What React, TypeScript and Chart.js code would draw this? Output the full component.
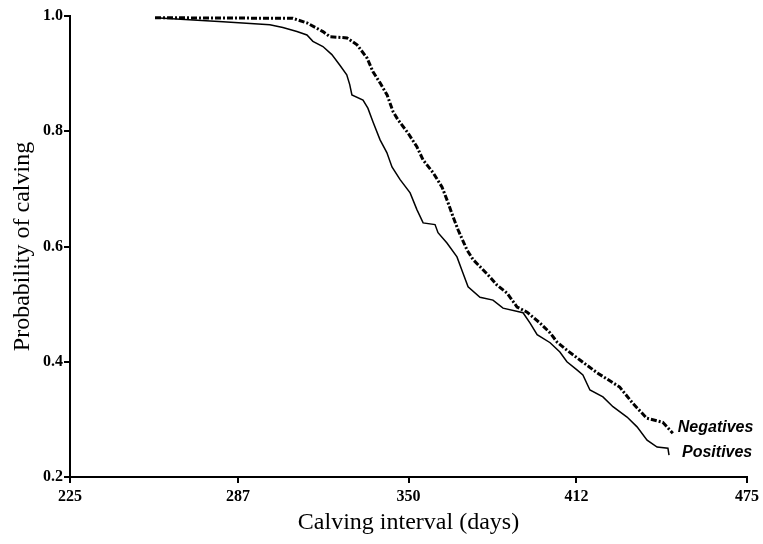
import React, { useEffect, useRef } from "react";
import { Chart, registerables } from "chart.js";

Chart.register(...registerables);

const xTicks = [225, 287, 350, 412, 475];
const yTicks = [0.2, 0.4, 0.6, 0.8, 1.0];

const seriesNames = ["Negatives", "Positives"];

const positivesDays = [256.4, 281.5, 298.8, 303.6, 308.8, 312.5, 314.7, 318.4, 321.7, 324.6, 327.2, 328.3, 329.1, 333.2, 335.0, 336.9, 339.5, 342.0, 343.9, 346.9, 350.6, 353.1, 355.4, 359.8, 360.9, 364.2, 367.9, 370.1, 372.0, 376.4, 381.2, 384.9, 392.3, 394.9, 397.5, 402.3, 405.9, 408.5, 412.2, 414.4, 417.0, 421.8, 425.5, 430.7, 434.4, 438.1, 441.8, 445.8, 446.2];
const positivesProb = [0.997, 0.990, 0.985, 0.980, 0.973, 0.967, 0.956, 0.947, 0.933, 0.915, 0.898, 0.881, 0.863, 0.854, 0.840, 0.816, 0.785, 0.763, 0.738, 0.716, 0.693, 0.664, 0.641, 0.638, 0.624, 0.606, 0.582, 0.554, 0.530, 0.512, 0.507, 0.493, 0.485, 0.467, 0.447, 0.433, 0.417, 0.400, 0.386, 0.377, 0.351, 0.339, 0.322, 0.304, 0.287, 0.264, 0.252, 0.250, 0.238];

const negativesDays = [256.4, 307.3, 312.5, 318.4, 321.0, 327.3, 331.0, 334.7, 336.9, 339.5, 342.1, 344.3, 346.1, 349.8, 353.1, 355.4, 359.1, 362.4, 364.6, 366.5, 368.3, 371.6, 373.9, 376.4, 380.1, 382.7, 386.4, 390.1, 393.8, 398.6, 402.3, 404.9, 408.5, 413.3, 419.6, 428.0, 432.8, 438.0, 443.9, 447.6];
const negativesProb = [0.997, 0.996, 0.988, 0.973, 0.964, 0.962, 0.950, 0.927, 0.903, 0.884, 0.863, 0.834, 0.820, 0.797, 0.773, 0.750, 0.728, 0.703, 0.676, 0.651, 0.629, 0.594, 0.577, 0.565, 0.547, 0.533, 0.519, 0.495, 0.486, 0.467, 0.450, 0.434, 0.420, 0.403, 0.381, 0.356, 0.328, 0.302, 0.295, 0.276];

const toPoints = (xs: number[], ys: number[]) => xs.map((x, i) => ({ x, y: ys[i] }));

const endLabelPlugin = {
  id: "endLabels",
  afterDatasetsDraw(chart: any) {
    const ctx = chart.ctx;
    const offsets = [
      { dx: 5, dy: -6 },
      { dx: 13, dy: -3 },
    ];
    ctx.save();
    ctx.font = 'italic bold 16px "Liberation Sans", Arial, sans-serif';
    ctx.fillStyle = "#000";
    ctx.textBaseline = "middle";
    ctx.textAlign = "left";
    chart.data.datasets.forEach((ds: any, i: number) => {
      const meta = chart.getDatasetMeta(i);
      const last = meta.data[meta.data.length - 1];
      if (!last) return;
      ctx.fillText(ds.label, last.x + offsets[i].dx, last.y + offsets[i].dy);
    });
    ctx.restore();
  },
};

export default function App() {
  const ref = useRef<HTMLCanvasElement | null>(null);

  useEffect(() => {
    if (!ref.current) return;
    const tickFont = { family: '"Liberation Serif", "Times New Roman", serif', size: 16, weight: "bold" as const };
    const titleFont = { family: '"Liberation Serif", "Times New Roman", serif', size: 24 };
    const chart = new Chart(ref.current, {
      type: "line",
      data: {
        datasets: [
          {
            label: seriesNames[0],
            data: toPoints(negativesDays, negativesProb),
            borderColor: "#000",
            borderWidth: 3,
            borderDash: [6, 2, 2, 2],
            pointRadius: 0,
            tension: 0,
            fill: false,
          },
          {
            label: seriesNames[1],
            data: toPoints(positivesDays, positivesProb),
            borderColor: "#000",
            borderWidth: 1.5,
            pointRadius: 0,
            tension: 0,
            fill: false,
          },
        ],
      },
      options: {
        responsive: false,
        animation: false,
        devicePixelRatio: 1,
        layout: { padding: { top: 16, right: 16, left: 0, bottom: 0 } },
        plugins: { legend: { display: false }, tooltip: { enabled: false } },
        scales: {
          x: {
            type: "linear",
            min: 225,
            max: 475,
            afterFit: (s: any) => {
              s.height = 67;
            },
            afterBuildTicks: (s: any) => {
              s.ticks = xTicks.map((v) => ({ value: v }));
            },
            grid: { drawOnChartArea: false, drawTicks: true, tickLength: 6, color: "#000", lineWidth: 2 },
            border: { display: true, color: "#000", width: 2 },
            ticks: { color: "#000", font: tickFont, padding: 4, maxRotation: 0, autoSkip: false, callback: (v: any) => String(v) },
            title: { display: true, text: "Calving interval (days)", color: "#000", font: titleFont, padding: { top: 0, bottom: 7 } },
          },
          y: {
            type: "linear",
            min: 0.2,
            max: 1.0,
            afterFit: (s: any) => {
              s.width = 70;
            },
            afterBuildTicks: (s: any) => {
              s.ticks = yTicks.map((v) => ({ value: v }));
            },
            grid: { drawOnChartArea: false, drawTicks: true, tickLength: 6, color: "#000", lineWidth: 2 },
            border: { display: true, color: "#000", width: 2 },
            ticks: { color: "#000", font: tickFont, padding: 1, autoSkip: false, callback: (v: any) => Number(v).toFixed(1) },
            title: { display: true, text: "Probability of calving", color: "#000", font: titleFont, padding: { top: 8, bottom: 0 } },
          },
        },
      },
      plugins: [endLabelPlugin],
    });
    return () => chart.destroy();
  }, []);

  return (
    <div style={{ position: "absolute", left: 0, top: 0, width: 763, height: 544, background: "#fff" }}>
      <canvas ref={ref} width={763} height={544} />
    </div>
  );
}
